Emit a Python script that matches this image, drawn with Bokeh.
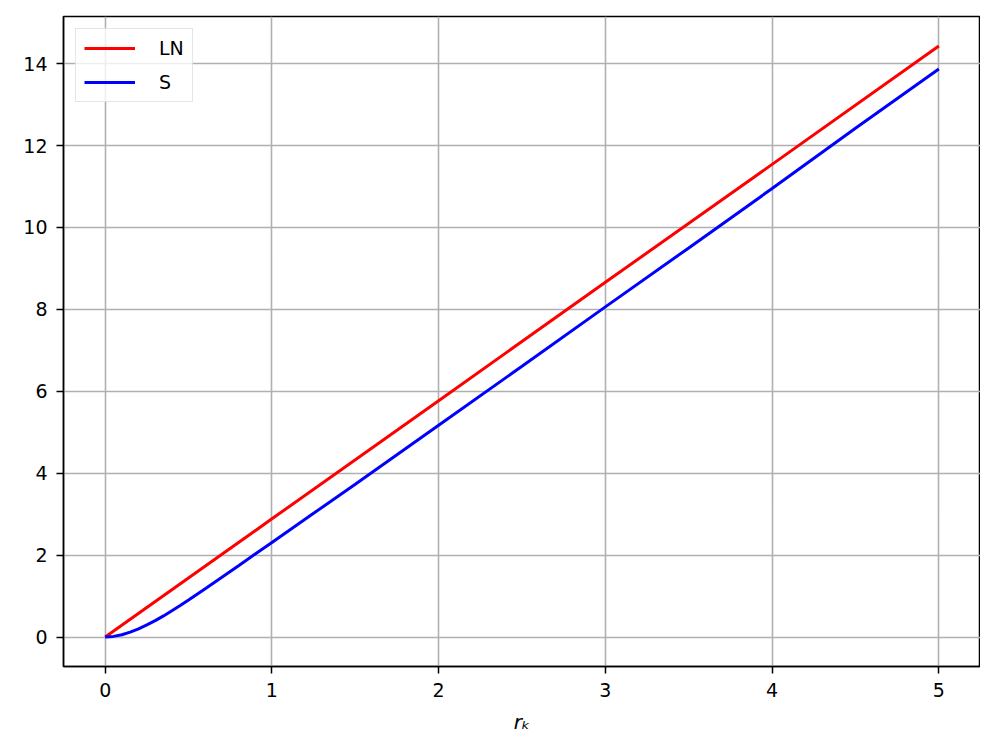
from bokeh.plotting import figure
from bokeh.models import FixedTicker, Range1d, Legend, LegendItem
from bokeh.embed import file_html
from bokeh.resources import INLINE

# Data
r_ln = [0, 1, 2, 3, 4, 5]
ln_vals = [0.0, 2.885, 5.77, 8.66, 11.54, 14.43]

r_s = [0, 0.05, 0.1, 0.15, 0.2, 0.25, 0.3, 0.35, 0.4, 0.45, 0.5, 0.6, 0.7, 0.8,
       0.9, 1.0, 1.25, 1.5, 2.0, 2.5, 3.0, 3.5, 4.0, 4.5, 5.0]
s_vals = [0.0, 0.015, 0.055, 0.12, 0.2, 0.295, 0.40, 0.515, 0.64, 0.77, 0.905,
          1.18, 1.46, 1.74, 2.025, 2.31, 3.02, 3.73, 5.17, 6.61, 8.06, 9.5,
          10.95, 12.42, 13.87]

x_ticks = [0, 1, 2, 3, 4, 5]
y_ticks = [0, 2, 4, 6, 8, 10, 12, 14]

FONT = "DejaVu Sans"

p = figure(width=980, height=739, output_backend="svg", toolbar_location=None,
           x_range=Range1d(-0.25, 5.25), y_range=Range1d(-0.72, 15.15),
           min_border_left=63, min_border_right=0, min_border_top=16,
           min_border_bottom=73)

p.background_fill_color = "white"
p.outline_line_color = "black"
p.outline_line_width = 1.5
p.outline_line_alpha = 1.0

r1 = p.line(r_ln, ln_vals, line_color="red", line_width=3)
r2 = p.line(r_s, s_vals, line_color="blue", line_width=3)

for ax in (p.xaxis[0], p.yaxis[0]):
    ax.axis_line_color = "black"
    ax.axis_line_width = 1.5
    ax.major_tick_line_color = "black"
    ax.major_tick_line_width = 1.5
    ax.major_tick_out = 7
    ax.major_tick_in = 0
    ax.minor_tick_line_color = None
    ax.major_label_text_font = FONT
    ax.major_label_text_font_size = "19px"
    ax.major_label_text_color = "black"
    ax.major_label_standoff = 9

p.xaxis.ticker = FixedTicker(ticks=x_ticks)
p.yaxis.ticker = FixedTicker(ticks=y_ticks)
p.xaxis.axis_label = "rₖ"
p.xaxis.axis_label_text_font = FONT
p.xaxis.axis_label_text_font_style = "italic"
p.xaxis.axis_label_text_font_size = "20px"
p.xaxis.axis_label_text_color = "black"
p.xaxis.axis_label_standoff = 10

p.grid.grid_line_color = "#b0b0b0"
p.grid.grid_line_width = 1.6

legend = Legend(items=[LegendItem(label="LN", renderers=[r1]),
                       LegendItem(label="S", renderers=[r2])],
                location="top_left")
legend.margin = 12
legend.padding = 8
legend.spacing = 12
legend.glyph_width = 51
legend.glyph_height = 22
legend.label_height = 22
legend.label_standoff = 24
legend.label_text_font = FONT
legend.label_text_font_size = "19px"
legend.label_text_color = "black"
legend.border_line_color = "#cccccc"
legend.border_line_width = 1.5
legend.background_fill_color = "white"
legend.background_fill_alpha = 0.8
p.add_layout(legend)

open("out.html", "w").write(file_html(p, INLINE))
